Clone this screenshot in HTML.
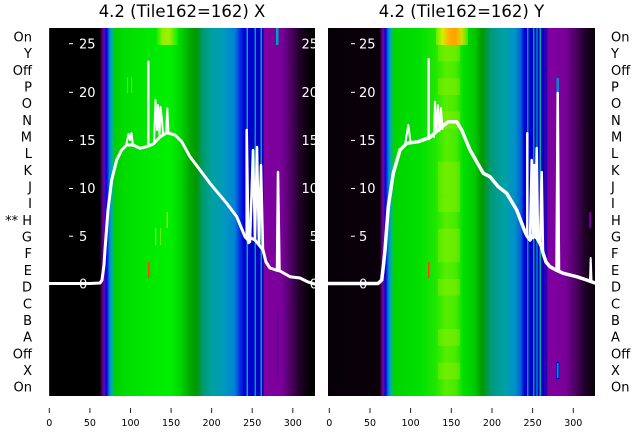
<!DOCTYPE html>
<html><head><meta charset="utf-8"><style>
html,body{margin:0;padding:0;background:#fff;}
svg{display:block;}
text{font-family:"DejaVu Sans","Liberation Sans",sans-serif;}
</style></head><body>
<svg width="640" height="440" viewBox="0 0 640 440" xmlns="http://www.w3.org/2000/svg">
<defs>
<linearGradient id="gL" gradientUnits="userSpaceOnUse" x1="49" y1="0" x2="315" y2="0">
<stop offset="0" stop-color="#000"/>
<stop offset="0.1917" stop-color="#000"/>
<stop offset="0.1974" stop-color="#400060"/>
<stop offset="0.2068" stop-color="#7000b0"/>
<stop offset="0.2162" stop-color="#0000e0"/>
<stop offset="0.2274" stop-color="#0088d0"/>
<stop offset="0.2368" stop-color="#00b0a0"/>
<stop offset="0.2481" stop-color="#00d000"/>
<stop offset="0.2857" stop-color="#00dc00"/>
<stop offset="0.3421" stop-color="#00e400"/>
<stop offset="0.4173" stop-color="#00ec00"/>
<stop offset="0.4549" stop-color="#00f000"/>
<stop offset="0.4925" stop-color="#00d800"/>
<stop offset="0.5301" stop-color="#00a800"/>
<stop offset="0.5526" stop-color="#009800"/>
<stop offset="0.5789" stop-color="#009a70"/>
<stop offset="0.6128" stop-color="#00a0a0"/>
<stop offset="0.6617" stop-color="#0098c0"/>
<stop offset="0.6992" stop-color="#0080d8"/>
<stop offset="0.7180" stop-color="#0030e0"/>
<stop offset="0.7331" stop-color="#0000d8"/>
<stop offset="0.8045" stop-color="#0000c0"/>
<stop offset="0.8083" stop-color="#8000a0"/>
<stop offset="0.8759" stop-color="#7a009a"/>
<stop offset="0.9060" stop-color="#500068"/>
<stop offset="0.9436" stop-color="#200028"/>
<stop offset="0.9737" stop-color="#080008"/>
<stop offset="1" stop-color="#000"/>
</linearGradient>
<linearGradient id="gR" gradientUnits="userSpaceOnUse" x1="328" y1="0" x2="595" y2="0">
<stop offset="0" stop-color="#080008"/>
<stop offset="0.1948" stop-color="#0a000a"/>
<stop offset="0.2004" stop-color="#5a0080"/>
<stop offset="0.2079" stop-color="#7000b0"/>
<stop offset="0.2154" stop-color="#0000e0"/>
<stop offset="0.2266" stop-color="#0088d0"/>
<stop offset="0.2360" stop-color="#00b0a0"/>
<stop offset="0.2472" stop-color="#00d400"/>
<stop offset="0.3446" stop-color="#00e000"/>
<stop offset="0.4045" stop-color="#20e800"/>
<stop offset="0.4419" stop-color="#58ee00"/>
<stop offset="0.4794" stop-color="#48ea00"/>
<stop offset="0.5056" stop-color="#00e000"/>
<stop offset="0.5506" stop-color="#00c800"/>
<stop offset="0.5768" stop-color="#009800"/>
<stop offset="0.6142" stop-color="#009a80"/>
<stop offset="0.6629" stop-color="#00a0a8"/>
<stop offset="0.7004" stop-color="#0090c8"/>
<stop offset="0.7228" stop-color="#0060d8"/>
<stop offset="0.7341" stop-color="#0000d8"/>
<stop offset="0.8165" stop-color="#0000c8"/>
<stop offset="0.8240" stop-color="#8000a0"/>
<stop offset="0.8876" stop-color="#7a009a"/>
<stop offset="0.9251" stop-color="#500068"/>
<stop offset="0.9625" stop-color="#200028"/>
<stop offset="1" stop-color="#080008"/>
</linearGradient>
<linearGradient id="gTop" gradientUnits="userSpaceOnUse" x1="436" y1="0" x2="468" y2="0">
<stop offset="0" stop-color="#60f000"/>
<stop offset="0.2" stop-color="#d0f000"/>
<stop offset="0.4" stop-color="#ffb000"/>
<stop offset="0.6" stop-color="#ffa000"/>
<stop offset="0.8" stop-color="#d0e000"/>
<stop offset="1" stop-color="#40e800"/>
</linearGradient>
<linearGradient id="gTopL" gradientUnits="userSpaceOnUse" x1="156" y1="0" x2="178" y2="0">
<stop offset="0" stop-color="#00f000"/>
<stop offset="0.3" stop-color="#90f000"/>
<stop offset="0.6" stop-color="#a0f000"/>
<stop offset="1" stop-color="#00f000"/>
</linearGradient>
<clipPath id="cL"><rect x="49" y="28" width="266" height="368"/></clipPath>
<clipPath id="cR"><rect x="328" y="28" width="267" height="368"/></clipPath>
</defs>

<rect x="0" y="0" width="640" height="440" fill="#fff"/>

<!-- LEFT PANEL -->
<g clip-path="url(#cL)">
<rect x="49" y="28" width="266" height="368" fill="url(#gL)"/>
<rect x="49" y="28" width="1" height="368" fill="#500070"/>
<rect x="156" y="28" width="22" height="17" fill="url(#gTopL)"/>
<rect x="246.5" y="28" width="1.5" height="368" fill="#00b090"/>
<rect x="254.5" y="28" width="1.5" height="368" fill="#009aa0"/>
<rect x="260.5" y="28" width="1.5" height="368" fill="#00a8a0"/>
<rect x="276" y="28" width="2.5" height="17" fill="#00a0c0"/>
<rect x="277" y="313" width="1.5" height="65" fill="#5a0090"/>
<rect x="148" y="262" width="1.5" height="16" fill="#ff4000"/>
<rect x="166.7" y="212" width="1.2" height="16" fill="#c0f000"/>
<rect x="155" y="228" width="1.2" height="17" fill="#a0f000"/>
<rect x="160" y="228" width="1" height="17" fill="#60f000"/>
<rect x="127" y="77" width="1.2" height="16" fill="#40f000"/>
<rect x="131" y="77" width="1.2" height="16" fill="#40f000"/>

<g stroke="#fff" stroke-width="1">
<line x1="69" y1="43.7" x2="73" y2="43.7"/>
<line x1="69" y1="92.3" x2="73" y2="92.3"/>
<line x1="69" y1="140.4" x2="73" y2="140.4"/>
<line x1="69" y1="188.5" x2="73" y2="188.5"/>
<line x1="69" y1="236.2" x2="73" y2="236.2"/>
<line x1="69" y1="284" x2="73" y2="284"/>
</g>
<g fill="#fff" font-size="13">
<text x="79" y="48.4">25</text>
<text x="79" y="97">20</text>
<text x="79" y="145.1">15</text>
<text x="79" y="193.2">10</text>
<text x="79" y="240.9">5</text>
<text x="79" y="288.7">0</text>
<text x="318" y="48.4" text-anchor="end">25</text>
<text x="318" y="97" text-anchor="end">20</text>
<text x="318" y="145.1" text-anchor="end">15</text>
<text x="318" y="193.2" text-anchor="end">10</text>
<text x="318" y="240.9" text-anchor="end">5</text>
<text x="318" y="288.7" text-anchor="end">0</text>
</g>

<g fill="none" stroke="#fff" stroke-linejoin="round" stroke-linecap="round">
<polyline stroke-width="3" points="49,283.5 70,283.5 90,283.5 100,283 102,280 104,265 105,250 108,210 111.7,180 116.7,160 121.7,150 126.7,145 133.3,145 140,148.3 146.7,146.7 153.3,144 160,137 166.7,132.7 175,135 181.7,141.7 190,156.7 200,170 210,183.3 218.3,193.3 226.7,203.3 236.7,216.7 245,236.7 248,240 251,238 255,240 259,245 263,250 266,262 270,268 276,270 280,271 290,276.7 300,278 308,282 315,284"/>
<polyline stroke-width="2" points="126,146 128.5,134 130,140 131.5,133 133,146"/>
<polyline stroke-width="2.5" points="148.3,146 148.3,61.7"/>
<polyline stroke-width="2" points="154,143 155.5,100 157,130 158,105 159.5,135 160.5,107 162,120 163,134"/>
<polyline stroke-width="2" points="166,133 167.3,108.3 168.5,133"/>
<polyline stroke-width="2.5" points="246.7,236 246.7,130 248.5,243"/>
<polyline stroke-width="2.5" points="250,242 253,150 255,240 257,147 259,245 261,165 263,250"/>
<polyline stroke-width="2.5" points="277,270 278,172 279.5,271"/>
</g>
</g>

<!-- RIGHT PANEL -->
<g clip-path="url(#cR)">
<rect x="328" y="28" width="267" height="368" fill="url(#gR)"/>
<g fill="#a0f000" opacity="0.35">
<rect x="438" y="44.7" width="22" height="16.7"/>
<rect x="438" y="78.2" width="22" height="16.7"/>
<rect x="438" y="111.6" width="22" height="16.7"/>
<rect x="438" y="161.8" width="22" height="16.7"/>
<rect x="438" y="178.5" width="22" height="16.7"/>
<rect x="438" y="195.3" width="22" height="16.7"/>
<rect x="438" y="228.8" width="22" height="16.7"/>
<rect x="438" y="245.5" width="22" height="16.7"/>
<rect x="438" y="279" width="22" height="16.7"/>
<rect x="438" y="329.2" width="22" height="16.7"/>
<rect x="438" y="362.6" width="22" height="16.7"/>
</g>
<rect x="436" y="28" width="32" height="17" fill="url(#gTop)"/>
<rect x="527" y="28" width="1.5" height="368" fill="#00a090"/>
<rect x="533" y="28" width="1.5" height="368" fill="#00a080"/>
<rect x="536" y="28" width="2" height="368" fill="#0060cc"/>
<rect x="539.5" y="28" width="1.5" height="368" fill="#00b0a0"/>
<rect x="544" y="28" width="2" height="368" fill="#3000b0"/>
<rect x="428" y="262" width="1.5" height="16" fill="#ff4000"/>
<rect x="556.5" y="78" width="2.5" height="16" fill="#1080d0"/>
<rect x="556.2" y="362" width="3" height="17" fill="#0000c0"/>
<rect x="556.8" y="363" width="1.8" height="15" fill="#0090c0"/>
<rect x="589.3" y="212" width="1.8" height="16" fill="#8000a0"/>

<g stroke="#fff" stroke-width="1">
<line x1="351" y1="43.7" x2="355" y2="43.7"/>
<line x1="351" y1="92.3" x2="355" y2="92.3"/>
<line x1="351" y1="140.4" x2="355" y2="140.4"/>
<line x1="351" y1="188.5" x2="355" y2="188.5"/>
<line x1="351" y1="236.2" x2="355" y2="236.2"/>
<line x1="351" y1="284" x2="355" y2="284"/>
</g>
<g fill="#fff" font-size="13">
<text x="359" y="48.4">25</text>
<text x="359" y="97">20</text>
<text x="359" y="145.1">15</text>
<text x="359" y="193.2">10</text>
<text x="359" y="240.9">5</text>
<text x="359" y="288.7">0</text>
</g>

<g fill="none" stroke="#fff" stroke-linejoin="round" stroke-linecap="round">
<polyline stroke-width="3.5" points="328,283.5 378,283.5 381.7,280 383.5,265 385,250 388.3,206.7 393.3,173.3 400,150 406.7,143.3 418.3,141.7 430,137.3 440,128.3 448.3,121.7 456.7,121.7 461.7,130 470,150 476.7,161.7 483.3,173.3 490,176.7 498.3,186.7 506.7,193.3 516.7,210 525,231.7 527,236 530,240 533,235 537,238 541,245 543,253 546,262 550,266.7 556,270 563.3,273.3 576.7,276.7 586.7,280 595,283"/>
<polyline stroke-width="2" points="405,145 408.3,125 410.5,142"/>
<polyline stroke-width="2.5" points="428.7,139 428.7,59.3"/>
<polyline stroke-width="2" points="434,137 435,101.7 436.5,132 438,105 439.5,131 441,108 442.5,129"/>
<polyline stroke-width="2.5" points="527.3,236 527.3,133.3"/>
<polyline stroke-width="2.5" points="530,240 531.7,160 533,238 534.2,165 535.5,236 536.7,148 538,240"/>
<polyline stroke-width="2.5" points="540,245 541.7,172 543,253"/>
<polyline stroke-width="2.5" points="556.5,270 557.7,93 559,271"/>
<polyline stroke-width="2" points="590,281 590.7,258 591.5,281"/>
</g>
</g>

<!-- Titles -->
<g font-size="16.5" fill="#000" text-anchor="middle">
<text x="182" y="17">4.2 (Tile162=162) X</text>
<text x="461.5" y="17">4.2 (Tile162=162) Y</text>
</g>

<!-- Row labels left -->
<g font-size="13" fill="#000" text-anchor="end">
<text x="32" y="41.4">On</text>
<text x="32" y="58.1">Y</text>
<text x="32" y="74.8">Off</text>
<text x="32" y="91.4">P</text>
<text x="32" y="108.1">O</text>
<text x="32" y="124.8">N</text>
<text x="32" y="141.5">M</text>
<text x="32" y="158.2">L</text>
<text x="32" y="174.8">K</text>
<text x="32" y="191.5">J</text>
<text x="32" y="208.2">I</text>
<text x="32" y="224.9">** H</text>
<text x="32" y="241.6">G</text>
<text x="32" y="258.2">F</text>
<text x="32" y="274.9">E</text>
<text x="32" y="291.6">D</text>
<text x="32" y="308.3">C</text>
<text x="32" y="325">B</text>
<text x="32" y="341.6">A</text>
<text x="32" y="358.3">Off</text>
<text x="32" y="375">X</text>
<text x="32" y="391.7">On</text>
</g>

<!-- Row labels right -->
<g font-size="13" fill="#000">
<text x="611" y="41.4">On</text>
<text x="611" y="58.1">Y</text>
<text x="611" y="74.8">Off</text>
<text x="611" y="91.4">P</text>
<text x="611" y="108.1">O</text>
<text x="611" y="124.8">N</text>
<text x="611" y="141.5">M</text>
<text x="611" y="158.2">L</text>
<text x="611" y="174.8">K</text>
<text x="611" y="191.5">J</text>
<text x="611" y="208.2">I</text>
<text x="611" y="224.9">H</text>
<text x="611" y="241.6">G</text>
<text x="611" y="258.2">F</text>
<text x="611" y="274.9">E</text>
<text x="611" y="291.6">D</text>
<text x="611" y="308.3">C</text>
<text x="611" y="325">B</text>
<text x="611" y="341.6">A</text>
<text x="611" y="358.3">Off</text>
<text x="611" y="375">X</text>
<text x="611" y="391.7">On</text>
</g>

<!-- X ticks -->
<g stroke="#222" stroke-width="1">
<line x1="49.3" y1="408" x2="49.3" y2="413"/>
<line x1="89.9" y1="408" x2="89.9" y2="413"/>
<line x1="130.5" y1="408" x2="130.5" y2="413"/>
<line x1="171.1" y1="408" x2="171.1" y2="413"/>
<line x1="211.6" y1="408" x2="211.6" y2="413"/>
<line x1="252.2" y1="408" x2="252.2" y2="413"/>
<line x1="292.8" y1="408" x2="292.8" y2="413"/>
<line x1="329.3" y1="408" x2="329.3" y2="413"/>
<line x1="370" y1="408" x2="370" y2="413"/>
<line x1="410.6" y1="408" x2="410.6" y2="413"/>
<line x1="451.3" y1="408" x2="451.3" y2="413"/>
<line x1="492" y1="408" x2="492" y2="413"/>
<line x1="532.6" y1="408" x2="532.6" y2="413"/>
<line x1="573.3" y1="408" x2="573.3" y2="413"/>
</g>
<g font-size="9.5" fill="#000" text-anchor="middle">
<text x="49.3" y="426">0</text>
<text x="89.9" y="426">50</text>
<text x="130.5" y="426">100</text>
<text x="171.1" y="426">150</text>
<text x="211.6" y="426">200</text>
<text x="252.2" y="426">250</text>
<text x="292.8" y="426">300</text>
<text x="329.3" y="426">0</text>
<text x="370" y="426">50</text>
<text x="410.6" y="426">100</text>
<text x="451.3" y="426">150</text>
<text x="492" y="426">200</text>
<text x="532.6" y="426">250</text>
<text x="573.3" y="426">300</text>
</g>
</svg>
</body></html>
